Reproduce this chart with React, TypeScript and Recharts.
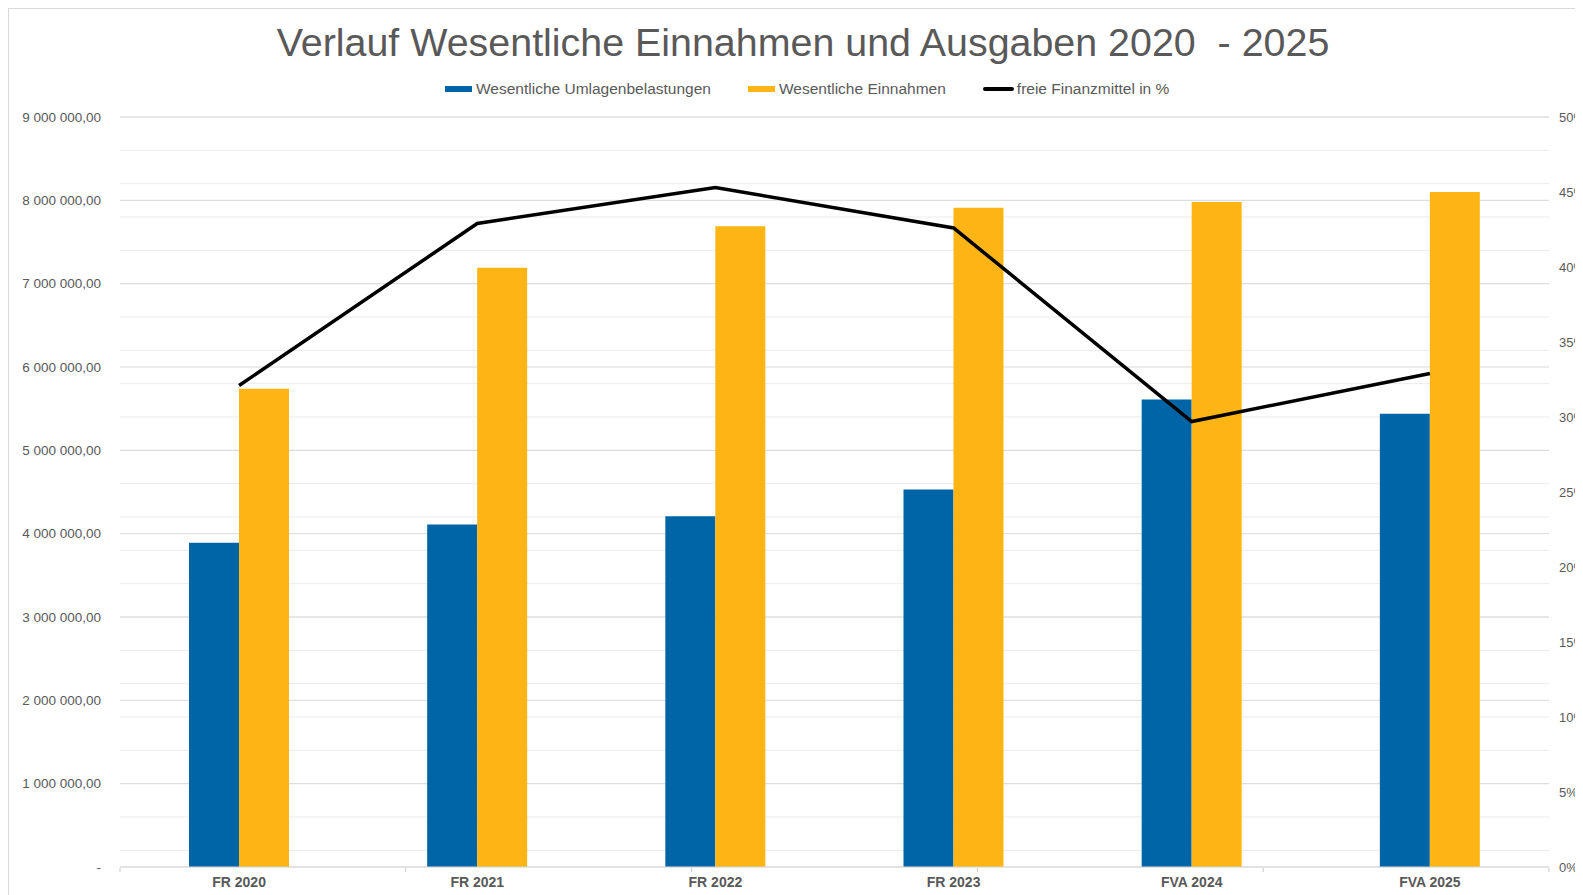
import React from 'react';
import {
  ComposedChart,
  Bar,
  Line,
  XAxis,
  YAxis,
  CartesianGrid,
  Legend,
} from 'recharts';

const categories = ['FR 2020', 'FR 2021', 'FR 2022', 'FR 2023', 'FVA 2024', 'FVA 2025'];
const umlagen = [3890000, 4110000, 4210000, 4530000, 5610000, 5440000];
const einnahmen = [5740000, 7190000, 7690000, 7910000, 7980000, 8100000];
const finanzmittel = [32.1, 42.9, 45.3, 42.6, 29.7, 32.9];

const leftTicks = [0, 1000000, 2000000, 3000000, 4000000, 5000000, 6000000, 7000000, 8000000, 9000000];
const minorTicks = Array.from({ length: 46 }, (_, i) => i * 200000);
const rightTicks = [0, 5, 10, 15, 20, 25, 30, 35, 40, 45, 50];
const sepTicks = [0, 1, 2, 3, 4, 5, 6];

const title = 'Verlauf Wesentliche Einnahmen und Ausgaben 2020  - 2025';

const series = [
  { key: 'umlagen', label: 'Wesentliche Umlagenbelastungen', color: '#0065A6', kind: 'bar' },
  { key: 'einnahmen', label: 'Wesentliche Einnahmen', color: '#FDB515', kind: 'bar' },
  { key: 'finanz', label: 'freie Finanzmittel in %', color: '#000000', kind: 'line' },
];

const data = categories.map((name, i) => ({
  name,
  umlagen: umlagen[i],
  einnahmen: einnahmen[i],
  finanz: finanzmittel[i],
}));

const FONT = '"Liberation Sans", Arial, sans-serif';
const TEXT = '#595959';

const fmtMoney = (v: number) =>
  v === 0 ? '-' : v.toFixed(0).replace(/\B(?=(\d{3})+(?!\d))/g, ' ') + ',00';

const renderLegend = () => (
  <div style={{ display: 'flex', alignItems: 'center', gap: 37, fontFamily: FONT, fontSize: 15.5, color: TEXT }}>
    {series.map((s) => (
      <div key={s.key} style={{ display: 'flex', alignItems: 'center' }}>
        {s.kind === 'bar' ? (
          <div style={{ width: 27, height: 6, background: s.color, marginRight: 4 }} />
        ) : (
          <div style={{ width: 31, height: 4, background: s.color, borderRadius: 2, marginRight: 3 }} />
        )}
        <span>{s.label}</span>
      </div>
    ))}
  </div>
);

export default function App() {
  return (
    <div
      style={{
        position: 'relative',
        width: 1575,
        height: 887,
        boxSizing: 'border-box',
        borderTop: '1px solid #d9d9d9',
        borderLeft: '1px solid #d9d9d9',
        overflow: 'hidden',
        background: '#fff',
      }}
    >
      <style>{'body { overflow: hidden; }'}</style>
      <div
        style={{
          position: 'absolute',
          left: 0,
          top: 14,
          width: 1588,
          textAlign: 'center',
          whiteSpace: 'pre',
          fontFamily: FONT,
          fontSize: 39.4,
          lineHeight: 1,
          color: TEXT,
        }}
      >
        {title}
      </div>
      <ComposedChart
        width={1574}
        height={886}
        data={data}
        margin={{ top: 108, right: 0, bottom: 0, left: 0 }}
        barGap={0}
        style={{ position: 'absolute', left: 0, top: 0 }}
      >
        <CartesianGrid yAxisId="left" vertical={false} horizontalValues={minorTicks} stroke="#ebebeb" />
        <CartesianGrid yAxisId="left" vertical={false} horizontalValues={leftTicks} stroke="#d9d9d9" />
        <XAxis
          dataKey="name"
          height={1}
          tickLine={false}
          tickSize={6}
          tickMargin={4}
          axisLine={{ stroke: '#d9d9d9' }}
          tick={{ fontFamily: FONT, fontSize: 14, fontWeight: 700, fill: TEXT }}
        />
        <XAxis
          xAxisId="sep"
          type="number"
          domain={[0, 6]}
          ticks={sepTicks}
          height={27}
          tick={() => <g />}
          tickLine={{ stroke: '#c8c8c8' }}
          tickSize={4}
          axisLine={false}
        />
        <YAxis
          yAxisId="left"
          width={111}
          domain={[0, 9000000]}
          ticks={leftTicks}
          tickFormatter={fmtMoney}
          axisLine={false}
          tickLine={false}
          tickSize={6}
          tickMargin={13}
          tick={{ fontFamily: FONT, fontSize: 13.5, fill: TEXT }}
        />
        <YAxis
          yAxisId="right"
          orientation="right"
          width={34}
          domain={[0, 50]}
          ticks={rightTicks}
          tickFormatter={(v: number) => `${v}%`}
          axisLine={false}
          tickLine={false}
          tickSize={6}
          tickMargin={4}
          tick={{ fontFamily: FONT, fontSize: 13, fill: TEXT }}
        />
        <Legend
          verticalAlign="middle"
          layout="horizontal"
          content={renderLegend}
          wrapperStyle={{ top: 71, left: 436, width: 'auto' }}
        />
        <Bar yAxisId="left" dataKey="umlagen" fill="#0065A6" barSize={50} isAnimationActive={false} />
        <Bar yAxisId="left" dataKey="einnahmen" fill="#FDB515" barSize={50} isAnimationActive={false} />
        <Line
          yAxisId="right"
          dataKey="finanz"
          type="linear"
          stroke="#000000"
          strokeWidth={3.5}
          dot={false}
          activeDot={false}
          isAnimationActive={false}
        />
      </ComposedChart>
    </div>
  );
}
